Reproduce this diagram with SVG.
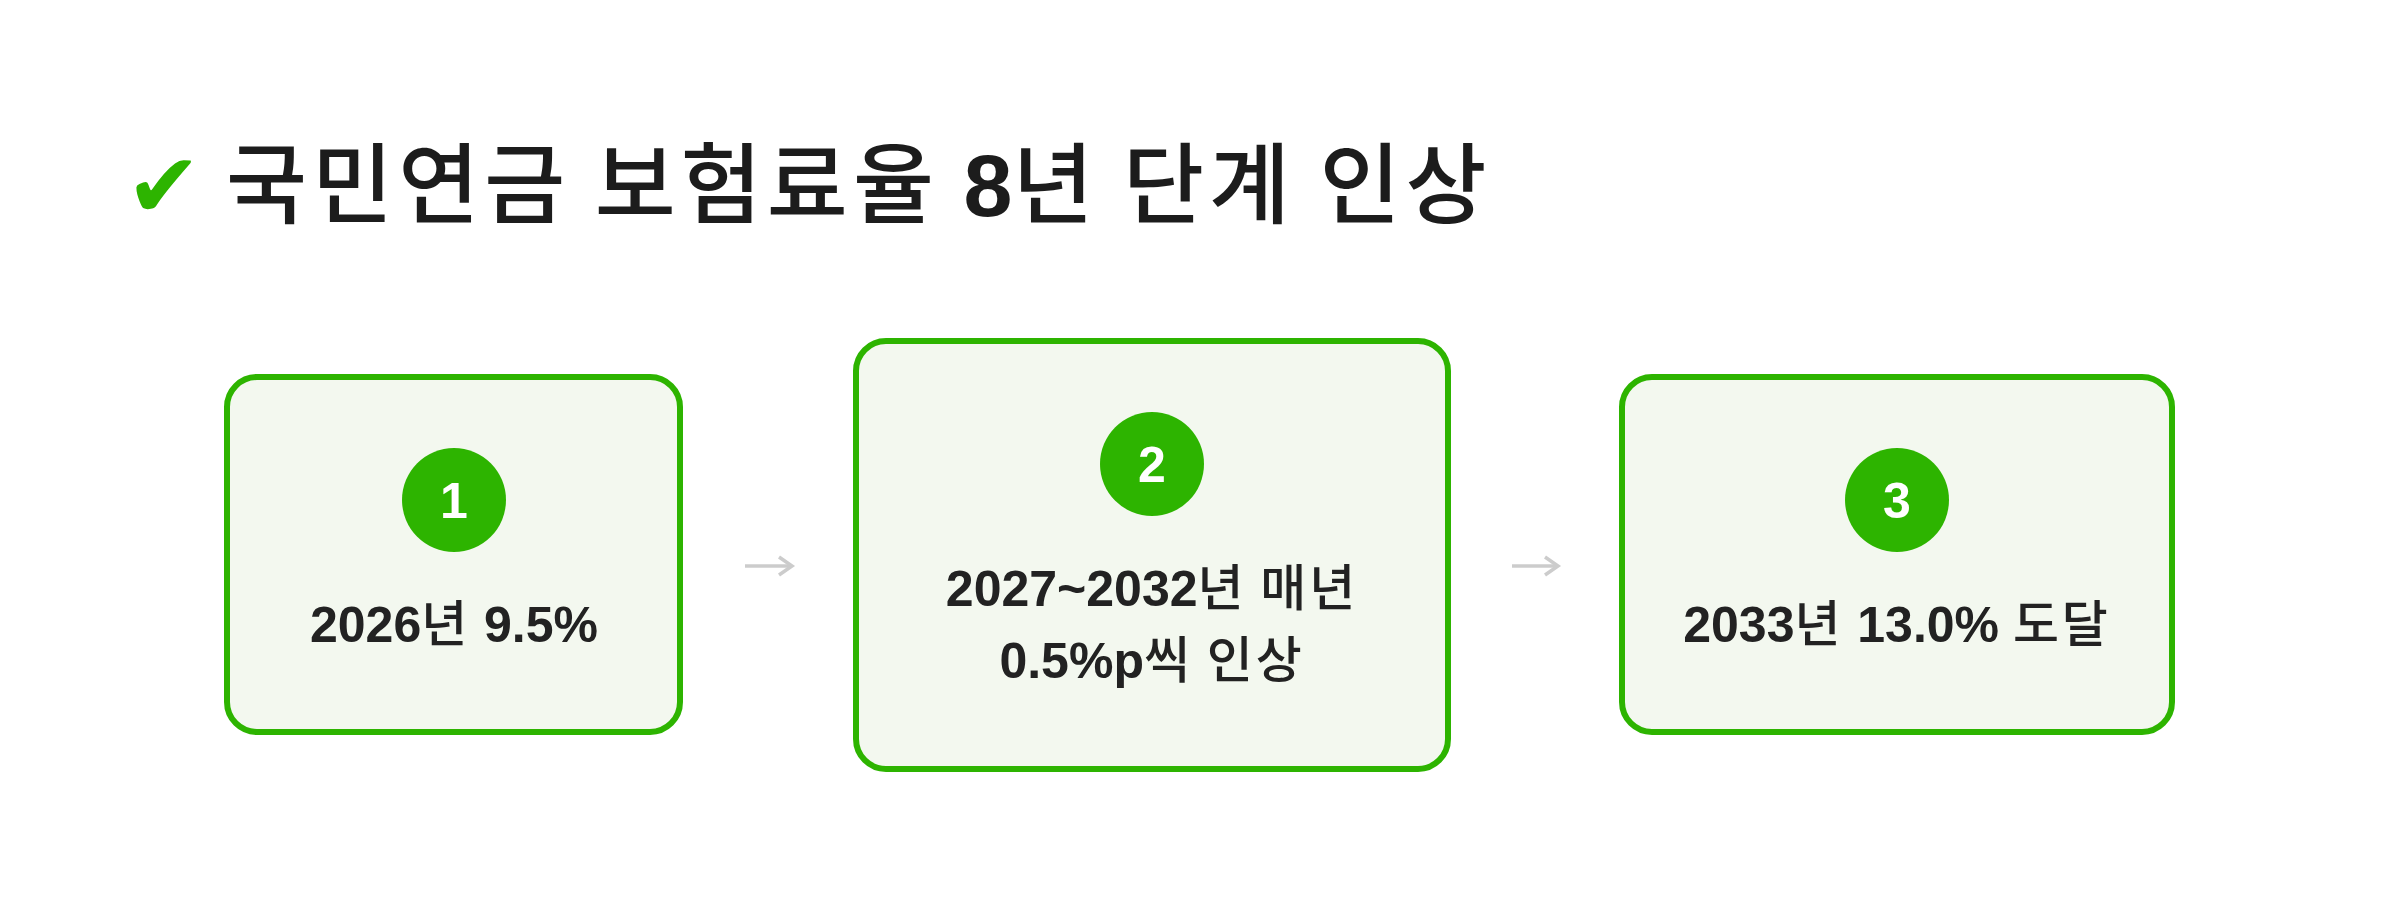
<svg xmlns="http://www.w3.org/2000/svg" width="2400" height="900" viewBox="0 0 2400 900">
<style>
.box{fill:#f3f8ef;stroke:#2db400;stroke-width:6}
.badge{fill:#2db400}
.num{fill:#ffffff;font-family:"Liberation Sans","Noto Sans CJK KR",sans-serif;font-weight:bold;font-size:50px;text-anchor:middle}
.lbl{fill:#222222;font-family:"Liberation Sans","Noto Sans CJK KR",sans-serif;font-weight:bold;font-size:50px;text-anchor:middle}
.title{fill:#1c1c1c;font-family:"Liberation Sans","Noto Sans CJK KR",sans-serif;font-weight:bold;font-size:88px}
.ko{font-weight:500;letter-spacing:0.058em}
.arrow{fill:none;stroke:#cccccc;stroke-width:3.5}
</style>
<rect width="2400" height="900" fill="#ffffff"/>
<g id="title">
<text x="126" y="217" font-family="DejaVu Sans" font-weight="bold" font-size="90" fill="#2db400">✔</text>
<text class="title" x="226" y="216"><tspan class="ko">국민연금</tspan> <tspan class="ko">보험료율</tspan> 8<tspan class="ko">년</tspan> <tspan class="ko">단계</tspan> <tspan class="ko">인상</tspan></text>
</g>
<g id="connectors">
<line class="arrow" x1="745" y1="566" x2="791" y2="566"/>
<polyline class="arrow" points="779,557 792,566 779,575"/>
<line class="arrow" x1="1512" y1="566" x2="1557" y2="566"/>
<polyline class="arrow" points="1545,557 1558,566 1545,575"/>
</g>
<g id="step1">
<rect class="box" x="227" y="377" width="453" height="355" rx="30"/>
<circle class="badge" cx="454" cy="500" r="52"/>
<text class="num" x="454" y="518">1</text>
<text class="lbl" x="454" y="642">2026<tspan class="ko">년</tspan> 9.5%</text>
</g>
<g id="step2">
<rect class="box" x="856" y="341" width="592" height="428" rx="30"/>
<circle class="badge" cx="1152" cy="464" r="52"/>
<text class="num" x="1152" y="482">2</text>
<text class="lbl" x="1152" y="606">2027~2032<tspan class="ko">년</tspan> <tspan class="ko">매년</tspan></text>
<text class="lbl" x="1152" y="678">0.5%p<tspan class="ko">씩</tspan> <tspan class="ko">인상</tspan></text>
</g>
<g id="step3">
<rect class="box" x="1622" y="377" width="550" height="355" rx="30"/>
<circle class="badge" cx="1897" cy="500" r="52"/>
<text class="num" x="1897" y="518">3</text>
<text class="lbl" x="1897" y="642">2033<tspan class="ko">년</tspan> 13.0% <tspan class="ko">도달</tspan></text>
</g>
</svg>
